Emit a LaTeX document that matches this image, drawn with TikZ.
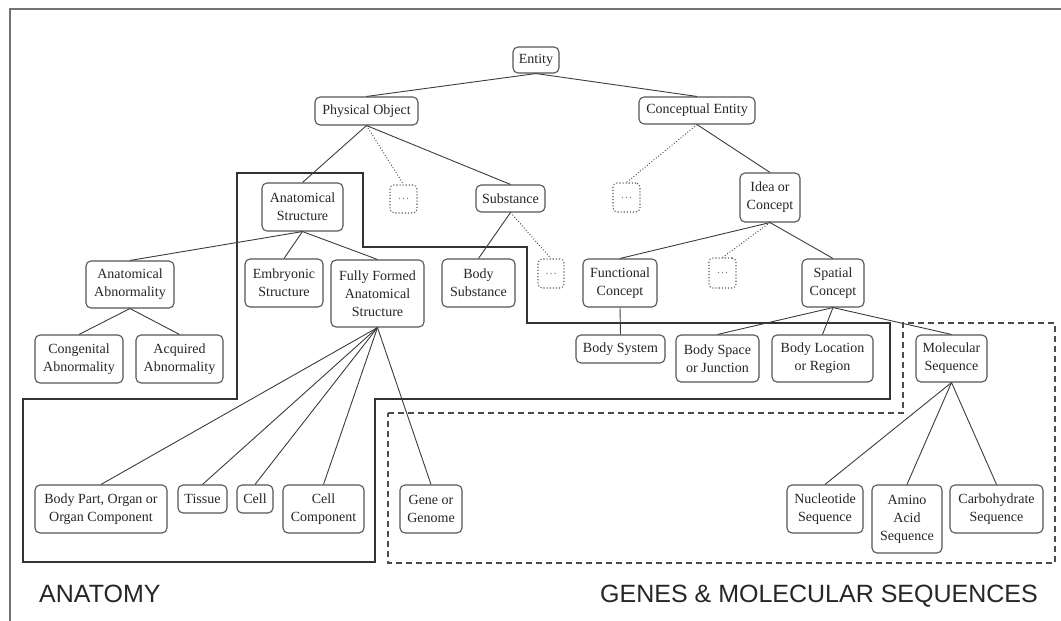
\documentclass[tikz,border=0pt]{standalone}
\usepackage{fontspec}
\setmainfont{Liberation Serif}
\newfontfamily\labelfont{Liberation Sans}
\definecolor{boxgray}{HTML}{555555}
\definecolor{linegray}{HTML}{3C3C3C}
\definecolor{textdark}{HTML}{262626}
\tikzset{
  box/.style={draw=boxgray, line width=1.1pt, rounded corners=5pt, fill=white,
    align=center, inner sep=0pt, text=textdark, font=\fontsize{14}{18}\selectfont},
  more/.style={draw=boxgray, dotted, line width=1.1pt, rounded corners=4pt, fill=white,
    inner sep=0pt, text=gray, font=\fontsize{12}{14}\selectfont},
  link/.style={draw=linegray, line width=0.9pt},
  hidden/.style={draw=linegray, dotted, line width=0.9pt},
  region/.style={draw=black!80, line width=1.3pt},
  dregion/.style={draw=black!70, line width=1.3pt, dash pattern=on 6pt off 4pt},
  caption/.style={font=\labelfont\fontsize{25}{30}\selectfont, text=black!85,
    anchor=base west, inner sep=0pt},
}
\begin{document}
\begin{tikzpicture}[x=1pt, y=-1pt]
\useasboundingbox (0,0) rectangle (1061,621);

% outer frame
\draw[draw=black!55, line width=2pt] (10,621) -- (10,9) -- (1061,9);

% region outlines
\draw[region] (237,173) -- (363,173) -- (363,247) -- (527,247) -- (527,323)
  -- (890,323) -- (890,399) -- (375,399) -- (375,562) -- (23,562) -- (23,399)
  -- (237,399) -- cycle;
\draw[dregion] (388,413) -- (903,413) -- (903,323) -- (1055,323) -- (1055,563)
  -- (388,563) -- cycle;

% top levels
\node[box, minimum width=46pt, minimum height=26pt] (entity) at (536,60) {Entity};
\node[box, minimum width=103pt, minimum height=28pt] (phys) at (366.5,111) {Physical Object};
\node[box, minimum width=116pt, minimum height=27pt] (concept) at (697,110.5) {Conceptual Entity};

% second level
\node[box, minimum width=81pt, minimum height=48pt] (anat) at (302.5,207) {Anatomical\\Structure};
\node[more, minimum width=27pt, minimum height=28pt] (physmore) at (403.5,199) {\ldots};
\node[box, minimum width=69pt, minimum height=27pt] (subst) at (510.5,198.5) {Substance};
\node[more, minimum width=27pt, minimum height=29pt] (concmore) at (626.5,197.5) {\ldots};
\node[box, minimum width=60pt, minimum height=49pt] (idea) at (770,197.5) {Idea or\\Concept};

% third level
\node[box, minimum width=88pt, minimum height=47pt] (abnorm) at (130,284.5) {Anatomical\\Abnormality};
\node[box, minimum width=78pt, minimum height=48pt] (embryo) at (284,283) {Embryonic\\Structure};
\node[box, minimum width=93pt, minimum height=67pt] (fully) at (377.5,293.5) {Fully Formed\\Anatomical\\Structure};
\node[box, minimum width=73pt, minimum height=48pt] (bodysub) at (478.5,283) {Body\\Substance};
\node[more, minimum width=26pt, minimum height=29pt] (submore) at (551,273.5) {\ldots};
\node[box, minimum width=74pt, minimum height=48pt] (func) at (620,283) {Functional\\Concept};
\node[more, minimum width=27pt, minimum height=30pt] (ideamore) at (722.5,273) {\ldots};
\node[box, minimum width=62pt, minimum height=48pt] (spatial) at (833,283) {Spatial\\Concept};

% fourth level
\node[box, minimum width=88pt, minimum height=48pt] (congen) at (79,359) {Congenital\\Abnormality};
\node[box, minimum width=87pt, minimum height=48pt] (acquir) at (179.5,359) {Acquired\\Abnormality};
\node[box, minimum width=89pt, minimum height=28pt] (bodysys) at (620.5,349) {Body System};
\node[box, minimum width=83pt, minimum height=47pt] (space) at (717.5,358.5) {Body Space\\or Junction};
\node[box, minimum width=101pt, minimum height=47pt] (location) at (822.5,358.5) {Body Location\\or Region};
\node[box, minimum width=71pt, minimum height=47pt] (molseq) at (951.5,358.5) {Molecular\\Sequence};

% bottom level
\node[box, minimum width=132pt, minimum height=48pt] (bodypart) at (101,509) {Body Part, Organ or\\Organ Component};
\node[box, minimum width=49pt, minimum height=28pt] (tissue) at (202.5,499) {Tissue};
\node[box, minimum width=36pt, minimum height=28pt] (cell) at (255,499) {Cell};
\node[box, minimum width=81pt, minimum height=48pt] (cellcomp) at (323.5,509) {Cell\\Component};
\node[box, minimum width=62pt, minimum height=48pt] (gene) at (431,509) {Gene or\\Genome};
\node[box, minimum width=76pt, minimum height=48pt] (nucleo) at (825,509) {Nucleotide\\Sequence};
\node[box, minimum width=70pt, minimum height=68pt] (amino) at (907,519) {Amino\\Acid\\Sequence};
\node[box, minimum width=93pt, minimum height=48pt] (carbo) at (996.5,509) {Carbohydrate\\Sequence};

% connectors
\draw[link] (entity.south) -- (phys.north);
\draw[link] (entity.south) -- (concept.north);
\draw[link] (phys.south) -- (anat.north);
\draw[hidden] (phys.south) -- (physmore.north);
\draw[link] (phys.south) -- (subst.north);
\draw[hidden] (concept.south) -- (concmore.north);
\draw[link] (concept.south) -- (idea.north);
\draw[link] (anat.south) -- (abnorm.north);
\draw[link] (anat.south) -- (embryo.north);
\draw[link] (anat.south) -- (fully.north);
\draw[link] (abnorm.south) -- (congen.north);
\draw[link] (abnorm.south) -- (acquir.north);
\draw[link] (subst.south) -- (bodysub.north);
\draw[hidden] (subst.south) -- (submore.north);
\draw[link] (idea.south) -- (func.north);
\draw[hidden] (idea.south) -- (ideamore.north);
\draw[link] (idea.south) -- (spatial.north);
\draw[link] (func.south) -- (bodysys.north);
\draw[link] (spatial.south) -- (space.north);
\draw[link] (spatial.south) -- (location.north);
\draw[link] (spatial.south) -- (molseq.north);
\draw[link] (fully.south) -- (bodypart.north);
\draw[link] (fully.south) -- (tissue.north);
\draw[link] (fully.south) -- (cell.north);
\draw[link] (fully.south) -- (cellcomp.north);
\draw[link] (fully.south) -- (gene.north);
\draw[link] (molseq.south) -- (nucleo.north);
\draw[link] (molseq.south) -- (amino.north);
\draw[link] (molseq.south) -- (carbo.north);

% region captions
\node[caption] (anatlabel) at (39,602) {ANATOMY};
\node[caption] (genelabel) at (600,602) {GENES \& MOLECULAR SEQUENCES};
\end{tikzpicture}
\end{document}
